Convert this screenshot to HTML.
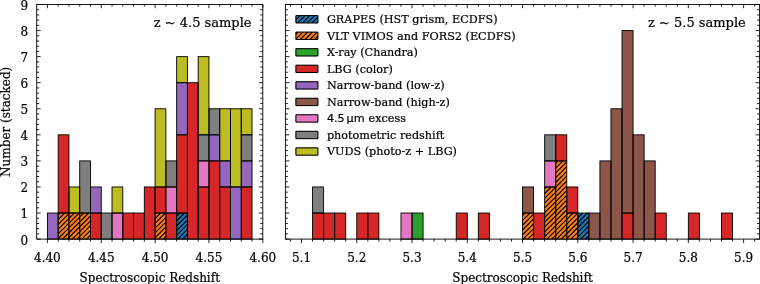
<!DOCTYPE html>
<html lang="en"><head><meta charset="utf-8"><title>Spectroscopic redshift histograms</title>
<style>html,body{margin:0;padding:0;background:#fff}svg text{white-space:pre}</style></head>
<body>
<svg width="760" height="284" viewBox="0 0 760 284" style="display:block">
<rect width="760" height="284" fill="#fff"/>
<g id="bars-left">
<rect x="47.40" y="213.03" width="10.77" height="26.07" fill="#9467bd"/>
<rect x="58.17" y="213.03" width="10.77" height="26.07" fill="#ff7f0e"/>
<path d="M58.17,214.74L59.87,213.03M58.17,219.53L64.67,213.03M58.17,224.33L68.94,213.56M58.17,229.13L68.94,218.36M58.17,233.92L68.94,223.15M58.17,238.72L68.94,227.95M62.59,239.10L68.94,232.75M67.38,239.10L68.94,237.54" stroke="#000" stroke-width="1.2" fill="none"/>
<rect x="58.17" y="134.83" width="10.77" height="78.20" fill="#d62728"/>
<rect x="68.94" y="213.03" width="10.77" height="26.07" fill="#ff7f0e"/>
<path d="M68.94,213.56L69.47,213.03M68.94,218.36L74.26,213.03M68.94,223.15L79.06,213.03M68.94,227.95L79.71,217.18M68.94,232.75L79.71,221.98M68.94,237.54L79.71,226.77M72.18,239.10L79.71,231.57M76.98,239.10L79.71,236.37" stroke="#000" stroke-width="1.2" fill="none"/>
<rect x="68.94" y="186.97" width="10.77" height="26.07" fill="#bcbd22"/>
<rect x="79.71" y="213.03" width="10.77" height="26.07" fill="#ff7f0e"/>
<path d="M79.71,217.18L83.86,213.03M79.71,221.98L88.65,213.03M79.71,226.77L90.48,216.00M79.71,231.57L90.48,220.80M79.71,236.37L90.48,225.60M81.77,239.10L90.48,230.39M86.57,239.10L90.48,235.19" stroke="#000" stroke-width="1.2" fill="none"/>
<rect x="79.71" y="160.90" width="10.77" height="52.13" fill="#7f7f7f"/>
<rect x="90.48" y="213.03" width="10.77" height="26.07" fill="#d62728"/>
<rect x="90.48" y="186.97" width="10.77" height="26.07" fill="#9467bd"/>
<rect x="101.25" y="213.03" width="10.77" height="26.07" fill="#7f7f7f"/>
<rect x="112.02" y="213.03" width="10.77" height="26.07" fill="#e377c2"/>
<rect x="112.02" y="186.97" width="10.77" height="26.07" fill="#bcbd22"/>
<rect x="122.79" y="213.03" width="10.77" height="26.07" fill="#d62728"/>
<rect x="133.56" y="213.03" width="10.77" height="26.07" fill="#d62728"/>
<rect x="144.33" y="186.97" width="10.77" height="52.13" fill="#d62728"/>
<rect x="155.10" y="213.03" width="10.77" height="26.07" fill="#ff7f0e"/>
<path d="M155.10,213.74L155.80,213.03M155.10,218.53L160.60,213.03M155.10,223.33L165.40,213.03M155.10,228.13L165.87,217.36M155.10,232.92L165.87,222.15M155.10,237.72L165.87,226.95M158.52,239.10L165.87,231.75M163.31,239.10L165.87,236.54" stroke="#000" stroke-width="1.2" fill="none"/>
<rect x="155.10" y="186.97" width="10.77" height="26.07" fill="#d62728"/>
<rect x="155.10" y="108.77" width="10.77" height="78.20" fill="#bcbd22"/>
<rect x="165.87" y="213.03" width="10.77" height="26.07" fill="#d62728"/>
<rect x="165.87" y="186.97" width="10.77" height="26.07" fill="#e377c2"/>
<rect x="165.87" y="160.90" width="10.77" height="26.07" fill="#7f7f7f"/>
<rect x="176.64" y="213.03" width="10.77" height="26.07" fill="#1f77b4"/>
<path d="M176.64,216.18L179.79,213.03M176.64,220.98L184.58,213.03M176.64,225.77L187.41,215.00M176.64,230.57L187.41,219.80M176.64,235.37L187.41,224.60M177.70,239.10L187.41,229.39M182.50,239.10L187.41,234.19M187.29,239.10L187.41,238.99" stroke="#000" stroke-width="1.2" fill="none"/>
<rect x="176.64" y="134.83" width="10.77" height="78.20" fill="#d62728"/>
<rect x="176.64" y="82.70" width="10.77" height="52.13" fill="#9467bd"/>
<rect x="176.64" y="56.63" width="10.77" height="26.07" fill="#bcbd22"/>
<rect x="187.41" y="82.70" width="10.77" height="156.40" fill="#d62728"/>
<rect x="198.18" y="186.97" width="10.77" height="52.13" fill="#d62728"/>
<rect x="198.18" y="160.90" width="10.77" height="26.07" fill="#e377c2"/>
<rect x="198.18" y="134.83" width="10.77" height="26.07" fill="#7f7f7f"/>
<rect x="198.18" y="56.63" width="10.77" height="78.20" fill="#bcbd22"/>
<rect x="208.95" y="160.90" width="10.77" height="78.20" fill="#d62728"/>
<rect x="208.95" y="134.83" width="10.77" height="26.07" fill="#9467bd"/>
<rect x="208.95" y="108.77" width="10.77" height="26.07" fill="#7f7f7f"/>
<rect x="219.72" y="186.97" width="10.77" height="52.13" fill="#d62728"/>
<rect x="219.72" y="160.90" width="10.77" height="26.07" fill="#9467bd"/>
<rect x="219.72" y="108.77" width="10.77" height="52.13" fill="#bcbd22"/>
<rect x="230.49" y="186.97" width="10.77" height="52.13" fill="#9467bd"/>
<rect x="230.49" y="108.77" width="10.77" height="78.20" fill="#bcbd22"/>
<rect x="241.26" y="186.97" width="10.77" height="52.13" fill="#d62728"/>
<rect x="241.26" y="160.90" width="10.77" height="26.07" fill="#9467bd"/>
<rect x="241.26" y="134.83" width="10.77" height="26.07" fill="#7f7f7f"/>
<rect x="241.26" y="108.77" width="10.77" height="26.07" fill="#bcbd22"/>
<rect x="47.40" y="213.03" width="10.77" height="26.07" fill="none" stroke="#000" stroke-width="0.9"/>
<rect x="58.17" y="213.03" width="10.77" height="26.07" fill="none" stroke="#000" stroke-width="0.9"/>
<rect x="58.17" y="134.83" width="10.77" height="78.20" fill="none" stroke="#000" stroke-width="0.9"/>
<rect x="68.94" y="213.03" width="10.77" height="26.07" fill="none" stroke="#000" stroke-width="0.9"/>
<rect x="68.94" y="186.97" width="10.77" height="26.07" fill="none" stroke="#000" stroke-width="0.9"/>
<rect x="79.71" y="213.03" width="10.77" height="26.07" fill="none" stroke="#000" stroke-width="0.9"/>
<rect x="79.71" y="160.90" width="10.77" height="52.13" fill="none" stroke="#000" stroke-width="0.9"/>
<rect x="90.48" y="213.03" width="10.77" height="26.07" fill="none" stroke="#000" stroke-width="0.9"/>
<rect x="90.48" y="186.97" width="10.77" height="26.07" fill="none" stroke="#000" stroke-width="0.9"/>
<rect x="101.25" y="213.03" width="10.77" height="26.07" fill="none" stroke="#000" stroke-width="0.9"/>
<rect x="112.02" y="213.03" width="10.77" height="26.07" fill="none" stroke="#000" stroke-width="0.9"/>
<rect x="112.02" y="186.97" width="10.77" height="26.07" fill="none" stroke="#000" stroke-width="0.9"/>
<rect x="122.79" y="213.03" width="10.77" height="26.07" fill="none" stroke="#000" stroke-width="0.9"/>
<rect x="133.56" y="213.03" width="10.77" height="26.07" fill="none" stroke="#000" stroke-width="0.9"/>
<rect x="144.33" y="186.97" width="10.77" height="52.13" fill="none" stroke="#000" stroke-width="0.9"/>
<rect x="155.10" y="213.03" width="10.77" height="26.07" fill="none" stroke="#000" stroke-width="0.9"/>
<rect x="155.10" y="186.97" width="10.77" height="26.07" fill="none" stroke="#000" stroke-width="0.9"/>
<rect x="155.10" y="108.77" width="10.77" height="78.20" fill="none" stroke="#000" stroke-width="0.9"/>
<rect x="165.87" y="213.03" width="10.77" height="26.07" fill="none" stroke="#000" stroke-width="0.9"/>
<rect x="165.87" y="186.97" width="10.77" height="26.07" fill="none" stroke="#000" stroke-width="0.9"/>
<rect x="165.87" y="160.90" width="10.77" height="26.07" fill="none" stroke="#000" stroke-width="0.9"/>
<rect x="176.64" y="213.03" width="10.77" height="26.07" fill="none" stroke="#000" stroke-width="0.9"/>
<rect x="176.64" y="134.83" width="10.77" height="78.20" fill="none" stroke="#000" stroke-width="0.9"/>
<rect x="176.64" y="82.70" width="10.77" height="52.13" fill="none" stroke="#000" stroke-width="0.9"/>
<rect x="176.64" y="56.63" width="10.77" height="26.07" fill="none" stroke="#000" stroke-width="0.9"/>
<rect x="187.41" y="82.70" width="10.77" height="156.40" fill="none" stroke="#000" stroke-width="0.9"/>
<rect x="198.18" y="186.97" width="10.77" height="52.13" fill="none" stroke="#000" stroke-width="0.9"/>
<rect x="198.18" y="160.90" width="10.77" height="26.07" fill="none" stroke="#000" stroke-width="0.9"/>
<rect x="198.18" y="134.83" width="10.77" height="26.07" fill="none" stroke="#000" stroke-width="0.9"/>
<rect x="198.18" y="56.63" width="10.77" height="78.20" fill="none" stroke="#000" stroke-width="0.9"/>
<rect x="208.95" y="160.90" width="10.77" height="78.20" fill="none" stroke="#000" stroke-width="0.9"/>
<rect x="208.95" y="134.83" width="10.77" height="26.07" fill="none" stroke="#000" stroke-width="0.9"/>
<rect x="208.95" y="108.77" width="10.77" height="26.07" fill="none" stroke="#000" stroke-width="0.9"/>
<rect x="219.72" y="186.97" width="10.77" height="52.13" fill="none" stroke="#000" stroke-width="0.9"/>
<rect x="219.72" y="160.90" width="10.77" height="26.07" fill="none" stroke="#000" stroke-width="0.9"/>
<rect x="219.72" y="108.77" width="10.77" height="52.13" fill="none" stroke="#000" stroke-width="0.9"/>
<rect x="230.49" y="186.97" width="10.77" height="52.13" fill="none" stroke="#000" stroke-width="0.9"/>
<rect x="230.49" y="108.77" width="10.77" height="78.20" fill="none" stroke="#000" stroke-width="0.9"/>
<rect x="241.26" y="186.97" width="10.77" height="52.13" fill="none" stroke="#000" stroke-width="0.9"/>
<rect x="241.26" y="160.90" width="10.77" height="26.07" fill="none" stroke="#000" stroke-width="0.9"/>
<rect x="241.26" y="134.83" width="10.77" height="26.07" fill="none" stroke="#000" stroke-width="0.9"/>
<rect x="241.26" y="108.77" width="10.77" height="26.07" fill="none" stroke="#000" stroke-width="0.9"/>
</g>
<g id="bars-right">
<rect x="312.55" y="213.03" width="11.05" height="26.07" fill="#d62728"/>
<rect x="312.55" y="186.97" width="11.05" height="26.07" fill="#7f7f7f"/>
<rect x="323.61" y="213.03" width="11.05" height="26.07" fill="#d62728"/>
<rect x="334.66" y="213.03" width="11.05" height="26.07" fill="#d62728"/>
<rect x="356.76" y="213.03" width="11.05" height="26.07" fill="#d62728"/>
<rect x="367.82" y="213.03" width="11.05" height="26.07" fill="#d62728"/>
<rect x="400.97" y="213.03" width="11.05" height="26.07" fill="#e377c2"/>
<rect x="412.03" y="213.03" width="11.05" height="26.07" fill="#2ca02c"/>
<rect x="456.24" y="213.03" width="11.05" height="26.07" fill="#d62728"/>
<rect x="478.34" y="213.03" width="11.05" height="26.07" fill="#d62728"/>
<rect x="522.55" y="213.03" width="11.05" height="26.07" fill="#ff7f0e"/>
<path d="M522.55,215.62L525.13,213.03M522.55,220.41L529.93,213.03M522.55,225.21L533.60,214.16M522.55,230.01L533.60,218.95M522.55,234.80L533.60,223.75M523.05,239.10L533.60,228.55M527.85,239.10L533.60,233.34M532.64,239.10L533.60,238.14" stroke="#000" stroke-width="1.2" fill="none"/>
<rect x="522.55" y="186.97" width="11.05" height="26.07" fill="#8c564b"/>
<rect x="533.60" y="213.03" width="11.05" height="26.07" fill="#d62728"/>
<rect x="544.66" y="186.97" width="11.05" height="52.13" fill="#ff7f0e"/>
<path d="M544.66,188.72L546.40,186.97M544.66,193.51L551.20,186.97M544.66,198.31L555.71,187.26M544.66,203.11L555.71,192.05M544.66,207.90L555.71,196.85M544.66,212.70L555.71,201.65M544.66,217.49L555.71,206.44M544.66,222.29L555.71,211.24M544.66,227.09L555.71,216.04M544.66,231.88L555.71,220.83M544.66,236.68L555.71,225.63M547.03,239.10L555.71,230.42M551.83,239.10L555.71,235.22" stroke="#000" stroke-width="1.2" fill="none"/>
<rect x="544.66" y="160.90" width="11.05" height="26.07" fill="#e377c2"/>
<rect x="544.66" y="134.83" width="11.05" height="26.07" fill="#7f7f7f"/>
<rect x="555.71" y="160.90" width="11.05" height="78.20" fill="#ff7f0e"/>
<path d="M555.71,163.27L558.08,160.90M555.71,168.07L562.88,160.90M555.71,172.87L566.76,161.81M555.71,177.66L566.76,166.61M555.71,182.46L566.76,171.41M555.71,187.26L566.76,176.20M555.71,192.05L566.76,181.00M555.71,196.85L566.76,185.80M555.71,201.65L566.76,190.59M555.71,206.44L566.76,195.39M555.71,211.24L566.76,200.19M555.71,216.04L566.76,204.98M555.71,220.83L566.76,209.78M555.71,225.63L566.76,214.58M555.71,230.42L566.76,219.37M555.71,235.22L566.76,224.17M556.63,239.10L566.76,228.97M561.42,239.10L566.76,233.76M566.22,239.10L566.76,238.56" stroke="#000" stroke-width="1.2" fill="none"/>
<rect x="555.71" y="134.83" width="11.05" height="26.07" fill="#d62728"/>
<rect x="566.76" y="213.03" width="11.05" height="26.07" fill="#ff7f0e"/>
<path d="M566.76,214.58L568.30,213.03M566.76,219.37L573.10,213.03M566.76,224.17L577.81,213.12M566.76,228.97L577.81,217.91M566.76,233.76L577.81,222.71M566.76,238.56L577.81,227.51M571.01,239.10L577.81,232.30M575.81,239.10L577.81,237.10" stroke="#000" stroke-width="1.2" fill="none"/>
<rect x="566.76" y="186.97" width="11.05" height="26.07" fill="#d62728"/>
<rect x="577.81" y="213.03" width="11.05" height="26.07" fill="#1f77b4"/>
<path d="M577.81,213.12L577.90,213.03M577.81,217.91L582.69,213.03M577.81,222.71L587.49,213.03M577.81,227.51L588.86,216.45M577.81,232.30L588.86,221.25M577.81,237.10L588.86,226.05M580.61,239.10L588.86,230.84M585.40,239.10L588.86,235.64" stroke="#000" stroke-width="1.2" fill="none"/>
<rect x="588.87" y="213.03" width="11.05" height="26.07" fill="#8c564b"/>
<rect x="599.92" y="160.90" width="11.05" height="78.20" fill="#8c564b"/>
<rect x="610.97" y="108.77" width="11.05" height="130.33" fill="#8c564b"/>
<rect x="622.02" y="213.03" width="11.05" height="26.07" fill="#d62728"/>
<rect x="622.02" y="30.57" width="11.05" height="182.47" fill="#8c564b"/>
<rect x="633.08" y="134.83" width="11.05" height="104.27" fill="#8c564b"/>
<rect x="644.13" y="160.90" width="11.05" height="78.20" fill="#8c564b"/>
<rect x="655.18" y="213.03" width="11.05" height="26.07" fill="#d62728"/>
<rect x="688.34" y="213.03" width="11.05" height="26.07" fill="#d62728"/>
<rect x="721.50" y="213.03" width="11.05" height="26.07" fill="#d62728"/>
<rect x="312.55" y="213.03" width="11.05" height="26.07" fill="none" stroke="#000" stroke-width="0.9"/>
<rect x="312.55" y="186.97" width="11.05" height="26.07" fill="none" stroke="#000" stroke-width="0.9"/>
<rect x="323.61" y="213.03" width="11.05" height="26.07" fill="none" stroke="#000" stroke-width="0.9"/>
<rect x="334.66" y="213.03" width="11.05" height="26.07" fill="none" stroke="#000" stroke-width="0.9"/>
<rect x="356.76" y="213.03" width="11.05" height="26.07" fill="none" stroke="#000" stroke-width="0.9"/>
<rect x="367.82" y="213.03" width="11.05" height="26.07" fill="none" stroke="#000" stroke-width="0.9"/>
<rect x="400.97" y="213.03" width="11.05" height="26.07" fill="none" stroke="#000" stroke-width="0.9"/>
<rect x="412.03" y="213.03" width="11.05" height="26.07" fill="none" stroke="#000" stroke-width="0.9"/>
<rect x="456.24" y="213.03" width="11.05" height="26.07" fill="none" stroke="#000" stroke-width="0.9"/>
<rect x="478.34" y="213.03" width="11.05" height="26.07" fill="none" stroke="#000" stroke-width="0.9"/>
<rect x="522.55" y="213.03" width="11.05" height="26.07" fill="none" stroke="#000" stroke-width="0.9"/>
<rect x="522.55" y="186.97" width="11.05" height="26.07" fill="none" stroke="#000" stroke-width="0.9"/>
<rect x="533.60" y="213.03" width="11.05" height="26.07" fill="none" stroke="#000" stroke-width="0.9"/>
<rect x="544.66" y="186.97" width="11.05" height="52.13" fill="none" stroke="#000" stroke-width="0.9"/>
<rect x="544.66" y="160.90" width="11.05" height="26.07" fill="none" stroke="#000" stroke-width="0.9"/>
<rect x="544.66" y="134.83" width="11.05" height="26.07" fill="none" stroke="#000" stroke-width="0.9"/>
<rect x="555.71" y="160.90" width="11.05" height="78.20" fill="none" stroke="#000" stroke-width="0.9"/>
<rect x="555.71" y="134.83" width="11.05" height="26.07" fill="none" stroke="#000" stroke-width="0.9"/>
<rect x="566.76" y="213.03" width="11.05" height="26.07" fill="none" stroke="#000" stroke-width="0.9"/>
<rect x="566.76" y="186.97" width="11.05" height="26.07" fill="none" stroke="#000" stroke-width="0.9"/>
<rect x="577.81" y="213.03" width="11.05" height="26.07" fill="none" stroke="#000" stroke-width="0.9"/>
<rect x="588.87" y="213.03" width="11.05" height="26.07" fill="none" stroke="#000" stroke-width="0.9"/>
<rect x="599.92" y="160.90" width="11.05" height="78.20" fill="none" stroke="#000" stroke-width="0.9"/>
<rect x="610.97" y="108.77" width="11.05" height="130.33" fill="none" stroke="#000" stroke-width="0.9"/>
<rect x="622.02" y="213.03" width="11.05" height="26.07" fill="none" stroke="#000" stroke-width="0.9"/>
<rect x="622.02" y="30.57" width="11.05" height="182.47" fill="none" stroke="#000" stroke-width="0.9"/>
<rect x="633.08" y="134.83" width="11.05" height="104.27" fill="none" stroke="#000" stroke-width="0.9"/>
<rect x="644.13" y="160.90" width="11.05" height="78.20" fill="none" stroke="#000" stroke-width="0.9"/>
<rect x="655.18" y="213.03" width="11.05" height="26.07" fill="none" stroke="#000" stroke-width="0.9"/>
<rect x="688.34" y="213.03" width="11.05" height="26.07" fill="none" stroke="#000" stroke-width="0.9"/>
<rect x="721.50" y="213.03" width="11.05" height="26.07" fill="none" stroke="#000" stroke-width="0.9"/>
</g>
<g id="ticks">
<line x1="36.70" y1="239.10" x2="40.70" y2="239.10" stroke="#000" stroke-width="0.85"/>
<line x1="262.80" y1="239.10" x2="258.80" y2="239.10" stroke="#000" stroke-width="0.85"/>
<line x1="36.70" y1="233.89" x2="39.20" y2="233.89" stroke="#000" stroke-width="0.85"/>
<line x1="262.80" y1="233.89" x2="260.30" y2="233.89" stroke="#000" stroke-width="0.85"/>
<line x1="36.70" y1="228.67" x2="39.20" y2="228.67" stroke="#000" stroke-width="0.85"/>
<line x1="262.80" y1="228.67" x2="260.30" y2="228.67" stroke="#000" stroke-width="0.85"/>
<line x1="36.70" y1="223.46" x2="39.20" y2="223.46" stroke="#000" stroke-width="0.85"/>
<line x1="262.80" y1="223.46" x2="260.30" y2="223.46" stroke="#000" stroke-width="0.85"/>
<line x1="36.70" y1="218.25" x2="39.20" y2="218.25" stroke="#000" stroke-width="0.85"/>
<line x1="262.80" y1="218.25" x2="260.30" y2="218.25" stroke="#000" stroke-width="0.85"/>
<line x1="36.70" y1="213.03" x2="40.70" y2="213.03" stroke="#000" stroke-width="0.85"/>
<line x1="262.80" y1="213.03" x2="258.80" y2="213.03" stroke="#000" stroke-width="0.85"/>
<line x1="36.70" y1="207.82" x2="39.20" y2="207.82" stroke="#000" stroke-width="0.85"/>
<line x1="262.80" y1="207.82" x2="260.30" y2="207.82" stroke="#000" stroke-width="0.85"/>
<line x1="36.70" y1="202.61" x2="39.20" y2="202.61" stroke="#000" stroke-width="0.85"/>
<line x1="262.80" y1="202.61" x2="260.30" y2="202.61" stroke="#000" stroke-width="0.85"/>
<line x1="36.70" y1="197.39" x2="39.20" y2="197.39" stroke="#000" stroke-width="0.85"/>
<line x1="262.80" y1="197.39" x2="260.30" y2="197.39" stroke="#000" stroke-width="0.85"/>
<line x1="36.70" y1="192.18" x2="39.20" y2="192.18" stroke="#000" stroke-width="0.85"/>
<line x1="262.80" y1="192.18" x2="260.30" y2="192.18" stroke="#000" stroke-width="0.85"/>
<line x1="36.70" y1="186.97" x2="40.70" y2="186.97" stroke="#000" stroke-width="0.85"/>
<line x1="262.80" y1="186.97" x2="258.80" y2="186.97" stroke="#000" stroke-width="0.85"/>
<line x1="36.70" y1="181.75" x2="39.20" y2="181.75" stroke="#000" stroke-width="0.85"/>
<line x1="262.80" y1="181.75" x2="260.30" y2="181.75" stroke="#000" stroke-width="0.85"/>
<line x1="36.70" y1="176.54" x2="39.20" y2="176.54" stroke="#000" stroke-width="0.85"/>
<line x1="262.80" y1="176.54" x2="260.30" y2="176.54" stroke="#000" stroke-width="0.85"/>
<line x1="36.70" y1="171.33" x2="39.20" y2="171.33" stroke="#000" stroke-width="0.85"/>
<line x1="262.80" y1="171.33" x2="260.30" y2="171.33" stroke="#000" stroke-width="0.85"/>
<line x1="36.70" y1="166.11" x2="39.20" y2="166.11" stroke="#000" stroke-width="0.85"/>
<line x1="262.80" y1="166.11" x2="260.30" y2="166.11" stroke="#000" stroke-width="0.85"/>
<line x1="36.70" y1="160.90" x2="40.70" y2="160.90" stroke="#000" stroke-width="0.85"/>
<line x1="262.80" y1="160.90" x2="258.80" y2="160.90" stroke="#000" stroke-width="0.85"/>
<line x1="36.70" y1="155.69" x2="39.20" y2="155.69" stroke="#000" stroke-width="0.85"/>
<line x1="262.80" y1="155.69" x2="260.30" y2="155.69" stroke="#000" stroke-width="0.85"/>
<line x1="36.70" y1="150.47" x2="39.20" y2="150.47" stroke="#000" stroke-width="0.85"/>
<line x1="262.80" y1="150.47" x2="260.30" y2="150.47" stroke="#000" stroke-width="0.85"/>
<line x1="36.70" y1="145.26" x2="39.20" y2="145.26" stroke="#000" stroke-width="0.85"/>
<line x1="262.80" y1="145.26" x2="260.30" y2="145.26" stroke="#000" stroke-width="0.85"/>
<line x1="36.70" y1="140.05" x2="39.20" y2="140.05" stroke="#000" stroke-width="0.85"/>
<line x1="262.80" y1="140.05" x2="260.30" y2="140.05" stroke="#000" stroke-width="0.85"/>
<line x1="36.70" y1="134.83" x2="40.70" y2="134.83" stroke="#000" stroke-width="0.85"/>
<line x1="262.80" y1="134.83" x2="258.80" y2="134.83" stroke="#000" stroke-width="0.85"/>
<line x1="36.70" y1="129.62" x2="39.20" y2="129.62" stroke="#000" stroke-width="0.85"/>
<line x1="262.80" y1="129.62" x2="260.30" y2="129.62" stroke="#000" stroke-width="0.85"/>
<line x1="36.70" y1="124.41" x2="39.20" y2="124.41" stroke="#000" stroke-width="0.85"/>
<line x1="262.80" y1="124.41" x2="260.30" y2="124.41" stroke="#000" stroke-width="0.85"/>
<line x1="36.70" y1="119.19" x2="39.20" y2="119.19" stroke="#000" stroke-width="0.85"/>
<line x1="262.80" y1="119.19" x2="260.30" y2="119.19" stroke="#000" stroke-width="0.85"/>
<line x1="36.70" y1="113.98" x2="39.20" y2="113.98" stroke="#000" stroke-width="0.85"/>
<line x1="262.80" y1="113.98" x2="260.30" y2="113.98" stroke="#000" stroke-width="0.85"/>
<line x1="36.70" y1="108.77" x2="40.70" y2="108.77" stroke="#000" stroke-width="0.85"/>
<line x1="262.80" y1="108.77" x2="258.80" y2="108.77" stroke="#000" stroke-width="0.85"/>
<line x1="36.70" y1="103.55" x2="39.20" y2="103.55" stroke="#000" stroke-width="0.85"/>
<line x1="262.80" y1="103.55" x2="260.30" y2="103.55" stroke="#000" stroke-width="0.85"/>
<line x1="36.70" y1="98.34" x2="39.20" y2="98.34" stroke="#000" stroke-width="0.85"/>
<line x1="262.80" y1="98.34" x2="260.30" y2="98.34" stroke="#000" stroke-width="0.85"/>
<line x1="36.70" y1="93.13" x2="39.20" y2="93.13" stroke="#000" stroke-width="0.85"/>
<line x1="262.80" y1="93.13" x2="260.30" y2="93.13" stroke="#000" stroke-width="0.85"/>
<line x1="36.70" y1="87.91" x2="39.20" y2="87.91" stroke="#000" stroke-width="0.85"/>
<line x1="262.80" y1="87.91" x2="260.30" y2="87.91" stroke="#000" stroke-width="0.85"/>
<line x1="36.70" y1="82.70" x2="40.70" y2="82.70" stroke="#000" stroke-width="0.85"/>
<line x1="262.80" y1="82.70" x2="258.80" y2="82.70" stroke="#000" stroke-width="0.85"/>
<line x1="36.70" y1="77.49" x2="39.20" y2="77.49" stroke="#000" stroke-width="0.85"/>
<line x1="262.80" y1="77.49" x2="260.30" y2="77.49" stroke="#000" stroke-width="0.85"/>
<line x1="36.70" y1="72.27" x2="39.20" y2="72.27" stroke="#000" stroke-width="0.85"/>
<line x1="262.80" y1="72.27" x2="260.30" y2="72.27" stroke="#000" stroke-width="0.85"/>
<line x1="36.70" y1="67.06" x2="39.20" y2="67.06" stroke="#000" stroke-width="0.85"/>
<line x1="262.80" y1="67.06" x2="260.30" y2="67.06" stroke="#000" stroke-width="0.85"/>
<line x1="36.70" y1="61.85" x2="39.20" y2="61.85" stroke="#000" stroke-width="0.85"/>
<line x1="262.80" y1="61.85" x2="260.30" y2="61.85" stroke="#000" stroke-width="0.85"/>
<line x1="36.70" y1="56.63" x2="40.70" y2="56.63" stroke="#000" stroke-width="0.85"/>
<line x1="262.80" y1="56.63" x2="258.80" y2="56.63" stroke="#000" stroke-width="0.85"/>
<line x1="36.70" y1="51.42" x2="39.20" y2="51.42" stroke="#000" stroke-width="0.85"/>
<line x1="262.80" y1="51.42" x2="260.30" y2="51.42" stroke="#000" stroke-width="0.85"/>
<line x1="36.70" y1="46.21" x2="39.20" y2="46.21" stroke="#000" stroke-width="0.85"/>
<line x1="262.80" y1="46.21" x2="260.30" y2="46.21" stroke="#000" stroke-width="0.85"/>
<line x1="36.70" y1="40.99" x2="39.20" y2="40.99" stroke="#000" stroke-width="0.85"/>
<line x1="262.80" y1="40.99" x2="260.30" y2="40.99" stroke="#000" stroke-width="0.85"/>
<line x1="36.70" y1="35.78" x2="39.20" y2="35.78" stroke="#000" stroke-width="0.85"/>
<line x1="262.80" y1="35.78" x2="260.30" y2="35.78" stroke="#000" stroke-width="0.85"/>
<line x1="36.70" y1="30.57" x2="40.70" y2="30.57" stroke="#000" stroke-width="0.85"/>
<line x1="262.80" y1="30.57" x2="258.80" y2="30.57" stroke="#000" stroke-width="0.85"/>
<line x1="36.70" y1="25.35" x2="39.20" y2="25.35" stroke="#000" stroke-width="0.85"/>
<line x1="262.80" y1="25.35" x2="260.30" y2="25.35" stroke="#000" stroke-width="0.85"/>
<line x1="36.70" y1="20.14" x2="39.20" y2="20.14" stroke="#000" stroke-width="0.85"/>
<line x1="262.80" y1="20.14" x2="260.30" y2="20.14" stroke="#000" stroke-width="0.85"/>
<line x1="36.70" y1="14.93" x2="39.20" y2="14.93" stroke="#000" stroke-width="0.85"/>
<line x1="262.80" y1="14.93" x2="260.30" y2="14.93" stroke="#000" stroke-width="0.85"/>
<line x1="36.70" y1="9.71" x2="39.20" y2="9.71" stroke="#000" stroke-width="0.85"/>
<line x1="262.80" y1="9.71" x2="260.30" y2="9.71" stroke="#000" stroke-width="0.85"/>
<line x1="36.70" y1="4.50" x2="40.70" y2="4.50" stroke="#000" stroke-width="0.85"/>
<line x1="262.80" y1="4.50" x2="258.80" y2="4.50" stroke="#000" stroke-width="0.85"/>
<line x1="285.40" y1="239.10" x2="289.40" y2="239.10" stroke="#000" stroke-width="0.85"/>
<line x1="759.60" y1="239.10" x2="755.60" y2="239.10" stroke="#000" stroke-width="0.85"/>
<line x1="285.40" y1="233.89" x2="287.90" y2="233.89" stroke="#000" stroke-width="0.85"/>
<line x1="759.60" y1="233.89" x2="757.10" y2="233.89" stroke="#000" stroke-width="0.85"/>
<line x1="285.40" y1="228.67" x2="287.90" y2="228.67" stroke="#000" stroke-width="0.85"/>
<line x1="759.60" y1="228.67" x2="757.10" y2="228.67" stroke="#000" stroke-width="0.85"/>
<line x1="285.40" y1="223.46" x2="287.90" y2="223.46" stroke="#000" stroke-width="0.85"/>
<line x1="759.60" y1="223.46" x2="757.10" y2="223.46" stroke="#000" stroke-width="0.85"/>
<line x1="285.40" y1="218.25" x2="287.90" y2="218.25" stroke="#000" stroke-width="0.85"/>
<line x1="759.60" y1="218.25" x2="757.10" y2="218.25" stroke="#000" stroke-width="0.85"/>
<line x1="285.40" y1="213.03" x2="289.40" y2="213.03" stroke="#000" stroke-width="0.85"/>
<line x1="759.60" y1="213.03" x2="755.60" y2="213.03" stroke="#000" stroke-width="0.85"/>
<line x1="285.40" y1="207.82" x2="287.90" y2="207.82" stroke="#000" stroke-width="0.85"/>
<line x1="759.60" y1="207.82" x2="757.10" y2="207.82" stroke="#000" stroke-width="0.85"/>
<line x1="285.40" y1="202.61" x2="287.90" y2="202.61" stroke="#000" stroke-width="0.85"/>
<line x1="759.60" y1="202.61" x2="757.10" y2="202.61" stroke="#000" stroke-width="0.85"/>
<line x1="285.40" y1="197.39" x2="287.90" y2="197.39" stroke="#000" stroke-width="0.85"/>
<line x1="759.60" y1="197.39" x2="757.10" y2="197.39" stroke="#000" stroke-width="0.85"/>
<line x1="285.40" y1="192.18" x2="287.90" y2="192.18" stroke="#000" stroke-width="0.85"/>
<line x1="759.60" y1="192.18" x2="757.10" y2="192.18" stroke="#000" stroke-width="0.85"/>
<line x1="285.40" y1="186.97" x2="289.40" y2="186.97" stroke="#000" stroke-width="0.85"/>
<line x1="759.60" y1="186.97" x2="755.60" y2="186.97" stroke="#000" stroke-width="0.85"/>
<line x1="285.40" y1="181.75" x2="287.90" y2="181.75" stroke="#000" stroke-width="0.85"/>
<line x1="759.60" y1="181.75" x2="757.10" y2="181.75" stroke="#000" stroke-width="0.85"/>
<line x1="285.40" y1="176.54" x2="287.90" y2="176.54" stroke="#000" stroke-width="0.85"/>
<line x1="759.60" y1="176.54" x2="757.10" y2="176.54" stroke="#000" stroke-width="0.85"/>
<line x1="285.40" y1="171.33" x2="287.90" y2="171.33" stroke="#000" stroke-width="0.85"/>
<line x1="759.60" y1="171.33" x2="757.10" y2="171.33" stroke="#000" stroke-width="0.85"/>
<line x1="285.40" y1="166.11" x2="287.90" y2="166.11" stroke="#000" stroke-width="0.85"/>
<line x1="759.60" y1="166.11" x2="757.10" y2="166.11" stroke="#000" stroke-width="0.85"/>
<line x1="285.40" y1="160.90" x2="289.40" y2="160.90" stroke="#000" stroke-width="0.85"/>
<line x1="759.60" y1="160.90" x2="755.60" y2="160.90" stroke="#000" stroke-width="0.85"/>
<line x1="285.40" y1="155.69" x2="287.90" y2="155.69" stroke="#000" stroke-width="0.85"/>
<line x1="759.60" y1="155.69" x2="757.10" y2="155.69" stroke="#000" stroke-width="0.85"/>
<line x1="285.40" y1="150.47" x2="287.90" y2="150.47" stroke="#000" stroke-width="0.85"/>
<line x1="759.60" y1="150.47" x2="757.10" y2="150.47" stroke="#000" stroke-width="0.85"/>
<line x1="285.40" y1="145.26" x2="287.90" y2="145.26" stroke="#000" stroke-width="0.85"/>
<line x1="759.60" y1="145.26" x2="757.10" y2="145.26" stroke="#000" stroke-width="0.85"/>
<line x1="285.40" y1="140.05" x2="287.90" y2="140.05" stroke="#000" stroke-width="0.85"/>
<line x1="759.60" y1="140.05" x2="757.10" y2="140.05" stroke="#000" stroke-width="0.85"/>
<line x1="285.40" y1="134.83" x2="289.40" y2="134.83" stroke="#000" stroke-width="0.85"/>
<line x1="759.60" y1="134.83" x2="755.60" y2="134.83" stroke="#000" stroke-width="0.85"/>
<line x1="285.40" y1="129.62" x2="287.90" y2="129.62" stroke="#000" stroke-width="0.85"/>
<line x1="759.60" y1="129.62" x2="757.10" y2="129.62" stroke="#000" stroke-width="0.85"/>
<line x1="285.40" y1="124.41" x2="287.90" y2="124.41" stroke="#000" stroke-width="0.85"/>
<line x1="759.60" y1="124.41" x2="757.10" y2="124.41" stroke="#000" stroke-width="0.85"/>
<line x1="285.40" y1="119.19" x2="287.90" y2="119.19" stroke="#000" stroke-width="0.85"/>
<line x1="759.60" y1="119.19" x2="757.10" y2="119.19" stroke="#000" stroke-width="0.85"/>
<line x1="285.40" y1="113.98" x2="287.90" y2="113.98" stroke="#000" stroke-width="0.85"/>
<line x1="759.60" y1="113.98" x2="757.10" y2="113.98" stroke="#000" stroke-width="0.85"/>
<line x1="285.40" y1="108.77" x2="289.40" y2="108.77" stroke="#000" stroke-width="0.85"/>
<line x1="759.60" y1="108.77" x2="755.60" y2="108.77" stroke="#000" stroke-width="0.85"/>
<line x1="285.40" y1="103.55" x2="287.90" y2="103.55" stroke="#000" stroke-width="0.85"/>
<line x1="759.60" y1="103.55" x2="757.10" y2="103.55" stroke="#000" stroke-width="0.85"/>
<line x1="285.40" y1="98.34" x2="287.90" y2="98.34" stroke="#000" stroke-width="0.85"/>
<line x1="759.60" y1="98.34" x2="757.10" y2="98.34" stroke="#000" stroke-width="0.85"/>
<line x1="285.40" y1="93.13" x2="287.90" y2="93.13" stroke="#000" stroke-width="0.85"/>
<line x1="759.60" y1="93.13" x2="757.10" y2="93.13" stroke="#000" stroke-width="0.85"/>
<line x1="285.40" y1="87.91" x2="287.90" y2="87.91" stroke="#000" stroke-width="0.85"/>
<line x1="759.60" y1="87.91" x2="757.10" y2="87.91" stroke="#000" stroke-width="0.85"/>
<line x1="285.40" y1="82.70" x2="289.40" y2="82.70" stroke="#000" stroke-width="0.85"/>
<line x1="759.60" y1="82.70" x2="755.60" y2="82.70" stroke="#000" stroke-width="0.85"/>
<line x1="285.40" y1="77.49" x2="287.90" y2="77.49" stroke="#000" stroke-width="0.85"/>
<line x1="759.60" y1="77.49" x2="757.10" y2="77.49" stroke="#000" stroke-width="0.85"/>
<line x1="285.40" y1="72.27" x2="287.90" y2="72.27" stroke="#000" stroke-width="0.85"/>
<line x1="759.60" y1="72.27" x2="757.10" y2="72.27" stroke="#000" stroke-width="0.85"/>
<line x1="285.40" y1="67.06" x2="287.90" y2="67.06" stroke="#000" stroke-width="0.85"/>
<line x1="759.60" y1="67.06" x2="757.10" y2="67.06" stroke="#000" stroke-width="0.85"/>
<line x1="285.40" y1="61.85" x2="287.90" y2="61.85" stroke="#000" stroke-width="0.85"/>
<line x1="759.60" y1="61.85" x2="757.10" y2="61.85" stroke="#000" stroke-width="0.85"/>
<line x1="285.40" y1="56.63" x2="289.40" y2="56.63" stroke="#000" stroke-width="0.85"/>
<line x1="759.60" y1="56.63" x2="755.60" y2="56.63" stroke="#000" stroke-width="0.85"/>
<line x1="285.40" y1="51.42" x2="287.90" y2="51.42" stroke="#000" stroke-width="0.85"/>
<line x1="759.60" y1="51.42" x2="757.10" y2="51.42" stroke="#000" stroke-width="0.85"/>
<line x1="285.40" y1="46.21" x2="287.90" y2="46.21" stroke="#000" stroke-width="0.85"/>
<line x1="759.60" y1="46.21" x2="757.10" y2="46.21" stroke="#000" stroke-width="0.85"/>
<line x1="285.40" y1="40.99" x2="287.90" y2="40.99" stroke="#000" stroke-width="0.85"/>
<line x1="759.60" y1="40.99" x2="757.10" y2="40.99" stroke="#000" stroke-width="0.85"/>
<line x1="285.40" y1="35.78" x2="287.90" y2="35.78" stroke="#000" stroke-width="0.85"/>
<line x1="759.60" y1="35.78" x2="757.10" y2="35.78" stroke="#000" stroke-width="0.85"/>
<line x1="285.40" y1="30.57" x2="289.40" y2="30.57" stroke="#000" stroke-width="0.85"/>
<line x1="759.60" y1="30.57" x2="755.60" y2="30.57" stroke="#000" stroke-width="0.85"/>
<line x1="285.40" y1="25.35" x2="287.90" y2="25.35" stroke="#000" stroke-width="0.85"/>
<line x1="759.60" y1="25.35" x2="757.10" y2="25.35" stroke="#000" stroke-width="0.85"/>
<line x1="285.40" y1="20.14" x2="287.90" y2="20.14" stroke="#000" stroke-width="0.85"/>
<line x1="759.60" y1="20.14" x2="757.10" y2="20.14" stroke="#000" stroke-width="0.85"/>
<line x1="285.40" y1="14.93" x2="287.90" y2="14.93" stroke="#000" stroke-width="0.85"/>
<line x1="759.60" y1="14.93" x2="757.10" y2="14.93" stroke="#000" stroke-width="0.85"/>
<line x1="285.40" y1="9.71" x2="287.90" y2="9.71" stroke="#000" stroke-width="0.85"/>
<line x1="759.60" y1="9.71" x2="757.10" y2="9.71" stroke="#000" stroke-width="0.85"/>
<line x1="285.40" y1="4.50" x2="289.40" y2="4.50" stroke="#000" stroke-width="0.85"/>
<line x1="759.60" y1="4.50" x2="755.60" y2="4.50" stroke="#000" stroke-width="0.85"/>
<line x1="47.40" y1="4.50" x2="47.40" y2="8.20" stroke="#000" stroke-width="0.85"/>
<line x1="47.40" y1="239.10" x2="47.40" y2="243.10" stroke="#000" stroke-width="0.85"/>
<line x1="58.17" y1="4.50" x2="58.17" y2="6.70" stroke="#000" stroke-width="0.85"/>
<line x1="58.17" y1="239.10" x2="58.17" y2="241.60" stroke="#000" stroke-width="0.85"/>
<line x1="68.94" y1="4.50" x2="68.94" y2="6.70" stroke="#000" stroke-width="0.85"/>
<line x1="68.94" y1="239.10" x2="68.94" y2="241.60" stroke="#000" stroke-width="0.85"/>
<line x1="79.71" y1="4.50" x2="79.71" y2="6.70" stroke="#000" stroke-width="0.85"/>
<line x1="79.71" y1="239.10" x2="79.71" y2="241.60" stroke="#000" stroke-width="0.85"/>
<line x1="90.48" y1="4.50" x2="90.48" y2="6.70" stroke="#000" stroke-width="0.85"/>
<line x1="90.48" y1="239.10" x2="90.48" y2="241.60" stroke="#000" stroke-width="0.85"/>
<line x1="101.25" y1="4.50" x2="101.25" y2="8.20" stroke="#000" stroke-width="0.85"/>
<line x1="101.25" y1="239.10" x2="101.25" y2="243.10" stroke="#000" stroke-width="0.85"/>
<line x1="112.02" y1="4.50" x2="112.02" y2="6.70" stroke="#000" stroke-width="0.85"/>
<line x1="112.02" y1="239.10" x2="112.02" y2="241.60" stroke="#000" stroke-width="0.85"/>
<line x1="122.79" y1="4.50" x2="122.79" y2="6.70" stroke="#000" stroke-width="0.85"/>
<line x1="122.79" y1="239.10" x2="122.79" y2="241.60" stroke="#000" stroke-width="0.85"/>
<line x1="133.56" y1="4.50" x2="133.56" y2="6.70" stroke="#000" stroke-width="0.85"/>
<line x1="133.56" y1="239.10" x2="133.56" y2="241.60" stroke="#000" stroke-width="0.85"/>
<line x1="144.33" y1="4.50" x2="144.33" y2="6.70" stroke="#000" stroke-width="0.85"/>
<line x1="144.33" y1="239.10" x2="144.33" y2="241.60" stroke="#000" stroke-width="0.85"/>
<line x1="155.10" y1="4.50" x2="155.10" y2="8.20" stroke="#000" stroke-width="0.85"/>
<line x1="155.10" y1="239.10" x2="155.10" y2="243.10" stroke="#000" stroke-width="0.85"/>
<line x1="165.87" y1="4.50" x2="165.87" y2="6.70" stroke="#000" stroke-width="0.85"/>
<line x1="165.87" y1="239.10" x2="165.87" y2="241.60" stroke="#000" stroke-width="0.85"/>
<line x1="176.64" y1="4.50" x2="176.64" y2="6.70" stroke="#000" stroke-width="0.85"/>
<line x1="176.64" y1="239.10" x2="176.64" y2="241.60" stroke="#000" stroke-width="0.85"/>
<line x1="187.41" y1="4.50" x2="187.41" y2="6.70" stroke="#000" stroke-width="0.85"/>
<line x1="187.41" y1="239.10" x2="187.41" y2="241.60" stroke="#000" stroke-width="0.85"/>
<line x1="198.18" y1="4.50" x2="198.18" y2="6.70" stroke="#000" stroke-width="0.85"/>
<line x1="198.18" y1="239.10" x2="198.18" y2="241.60" stroke="#000" stroke-width="0.85"/>
<line x1="208.95" y1="4.50" x2="208.95" y2="8.20" stroke="#000" stroke-width="0.85"/>
<line x1="208.95" y1="239.10" x2="208.95" y2="243.10" stroke="#000" stroke-width="0.85"/>
<line x1="219.72" y1="4.50" x2="219.72" y2="6.70" stroke="#000" stroke-width="0.85"/>
<line x1="219.72" y1="239.10" x2="219.72" y2="241.60" stroke="#000" stroke-width="0.85"/>
<line x1="230.49" y1="4.50" x2="230.49" y2="6.70" stroke="#000" stroke-width="0.85"/>
<line x1="230.49" y1="239.10" x2="230.49" y2="241.60" stroke="#000" stroke-width="0.85"/>
<line x1="241.26" y1="4.50" x2="241.26" y2="6.70" stroke="#000" stroke-width="0.85"/>
<line x1="241.26" y1="239.10" x2="241.26" y2="241.60" stroke="#000" stroke-width="0.85"/>
<line x1="252.03" y1="4.50" x2="252.03" y2="6.70" stroke="#000" stroke-width="0.85"/>
<line x1="252.03" y1="239.10" x2="252.03" y2="241.60" stroke="#000" stroke-width="0.85"/>
<line x1="262.80" y1="4.50" x2="262.80" y2="8.20" stroke="#000" stroke-width="0.85"/>
<line x1="262.80" y1="239.10" x2="262.80" y2="243.10" stroke="#000" stroke-width="0.85"/>
<line x1="290.45" y1="4.50" x2="290.45" y2="6.70" stroke="#000" stroke-width="0.85"/>
<line x1="290.45" y1="239.10" x2="290.45" y2="241.60" stroke="#000" stroke-width="0.85"/>
<line x1="301.50" y1="4.50" x2="301.50" y2="8.20" stroke="#000" stroke-width="0.85"/>
<line x1="301.50" y1="239.10" x2="301.50" y2="243.10" stroke="#000" stroke-width="0.85"/>
<line x1="312.55" y1="4.50" x2="312.55" y2="6.70" stroke="#000" stroke-width="0.85"/>
<line x1="312.55" y1="239.10" x2="312.55" y2="241.60" stroke="#000" stroke-width="0.85"/>
<line x1="323.61" y1="4.50" x2="323.61" y2="6.70" stroke="#000" stroke-width="0.85"/>
<line x1="323.61" y1="239.10" x2="323.61" y2="241.60" stroke="#000" stroke-width="0.85"/>
<line x1="334.66" y1="4.50" x2="334.66" y2="6.70" stroke="#000" stroke-width="0.85"/>
<line x1="334.66" y1="239.10" x2="334.66" y2="241.60" stroke="#000" stroke-width="0.85"/>
<line x1="345.71" y1="4.50" x2="345.71" y2="6.70" stroke="#000" stroke-width="0.85"/>
<line x1="345.71" y1="239.10" x2="345.71" y2="241.60" stroke="#000" stroke-width="0.85"/>
<line x1="356.76" y1="4.50" x2="356.76" y2="8.20" stroke="#000" stroke-width="0.85"/>
<line x1="356.76" y1="239.10" x2="356.76" y2="243.10" stroke="#000" stroke-width="0.85"/>
<line x1="367.82" y1="4.50" x2="367.82" y2="6.70" stroke="#000" stroke-width="0.85"/>
<line x1="367.82" y1="239.10" x2="367.82" y2="241.60" stroke="#000" stroke-width="0.85"/>
<line x1="378.87" y1="4.50" x2="378.87" y2="6.70" stroke="#000" stroke-width="0.85"/>
<line x1="378.87" y1="239.10" x2="378.87" y2="241.60" stroke="#000" stroke-width="0.85"/>
<line x1="389.92" y1="4.50" x2="389.92" y2="6.70" stroke="#000" stroke-width="0.85"/>
<line x1="389.92" y1="239.10" x2="389.92" y2="241.60" stroke="#000" stroke-width="0.85"/>
<line x1="400.97" y1="4.50" x2="400.97" y2="6.70" stroke="#000" stroke-width="0.85"/>
<line x1="400.97" y1="239.10" x2="400.97" y2="241.60" stroke="#000" stroke-width="0.85"/>
<line x1="412.03" y1="4.50" x2="412.03" y2="8.20" stroke="#000" stroke-width="0.85"/>
<line x1="412.03" y1="239.10" x2="412.03" y2="243.10" stroke="#000" stroke-width="0.85"/>
<line x1="423.08" y1="4.50" x2="423.08" y2="6.70" stroke="#000" stroke-width="0.85"/>
<line x1="423.08" y1="239.10" x2="423.08" y2="241.60" stroke="#000" stroke-width="0.85"/>
<line x1="434.13" y1="4.50" x2="434.13" y2="6.70" stroke="#000" stroke-width="0.85"/>
<line x1="434.13" y1="239.10" x2="434.13" y2="241.60" stroke="#000" stroke-width="0.85"/>
<line x1="445.18" y1="4.50" x2="445.18" y2="6.70" stroke="#000" stroke-width="0.85"/>
<line x1="445.18" y1="239.10" x2="445.18" y2="241.60" stroke="#000" stroke-width="0.85"/>
<line x1="456.24" y1="4.50" x2="456.24" y2="6.70" stroke="#000" stroke-width="0.85"/>
<line x1="456.24" y1="239.10" x2="456.24" y2="241.60" stroke="#000" stroke-width="0.85"/>
<line x1="467.29" y1="4.50" x2="467.29" y2="8.20" stroke="#000" stroke-width="0.85"/>
<line x1="467.29" y1="239.10" x2="467.29" y2="243.10" stroke="#000" stroke-width="0.85"/>
<line x1="478.34" y1="4.50" x2="478.34" y2="6.70" stroke="#000" stroke-width="0.85"/>
<line x1="478.34" y1="239.10" x2="478.34" y2="241.60" stroke="#000" stroke-width="0.85"/>
<line x1="489.39" y1="4.50" x2="489.39" y2="6.70" stroke="#000" stroke-width="0.85"/>
<line x1="489.39" y1="239.10" x2="489.39" y2="241.60" stroke="#000" stroke-width="0.85"/>
<line x1="500.45" y1="4.50" x2="500.45" y2="6.70" stroke="#000" stroke-width="0.85"/>
<line x1="500.45" y1="239.10" x2="500.45" y2="241.60" stroke="#000" stroke-width="0.85"/>
<line x1="511.50" y1="4.50" x2="511.50" y2="6.70" stroke="#000" stroke-width="0.85"/>
<line x1="511.50" y1="239.10" x2="511.50" y2="241.60" stroke="#000" stroke-width="0.85"/>
<line x1="522.55" y1="4.50" x2="522.55" y2="8.20" stroke="#000" stroke-width="0.85"/>
<line x1="522.55" y1="239.10" x2="522.55" y2="243.10" stroke="#000" stroke-width="0.85"/>
<line x1="533.60" y1="4.50" x2="533.60" y2="6.70" stroke="#000" stroke-width="0.85"/>
<line x1="533.60" y1="239.10" x2="533.60" y2="241.60" stroke="#000" stroke-width="0.85"/>
<line x1="544.66" y1="4.50" x2="544.66" y2="6.70" stroke="#000" stroke-width="0.85"/>
<line x1="544.66" y1="239.10" x2="544.66" y2="241.60" stroke="#000" stroke-width="0.85"/>
<line x1="555.71" y1="4.50" x2="555.71" y2="6.70" stroke="#000" stroke-width="0.85"/>
<line x1="555.71" y1="239.10" x2="555.71" y2="241.60" stroke="#000" stroke-width="0.85"/>
<line x1="566.76" y1="4.50" x2="566.76" y2="6.70" stroke="#000" stroke-width="0.85"/>
<line x1="566.76" y1="239.10" x2="566.76" y2="241.60" stroke="#000" stroke-width="0.85"/>
<line x1="577.81" y1="4.50" x2="577.81" y2="8.20" stroke="#000" stroke-width="0.85"/>
<line x1="577.81" y1="239.10" x2="577.81" y2="243.10" stroke="#000" stroke-width="0.85"/>
<line x1="588.87" y1="4.50" x2="588.87" y2="6.70" stroke="#000" stroke-width="0.85"/>
<line x1="588.87" y1="239.10" x2="588.87" y2="241.60" stroke="#000" stroke-width="0.85"/>
<line x1="599.92" y1="4.50" x2="599.92" y2="6.70" stroke="#000" stroke-width="0.85"/>
<line x1="599.92" y1="239.10" x2="599.92" y2="241.60" stroke="#000" stroke-width="0.85"/>
<line x1="610.97" y1="4.50" x2="610.97" y2="6.70" stroke="#000" stroke-width="0.85"/>
<line x1="610.97" y1="239.10" x2="610.97" y2="241.60" stroke="#000" stroke-width="0.85"/>
<line x1="622.02" y1="4.50" x2="622.02" y2="6.70" stroke="#000" stroke-width="0.85"/>
<line x1="622.02" y1="239.10" x2="622.02" y2="241.60" stroke="#000" stroke-width="0.85"/>
<line x1="633.08" y1="4.50" x2="633.08" y2="8.20" stroke="#000" stroke-width="0.85"/>
<line x1="633.08" y1="239.10" x2="633.08" y2="243.10" stroke="#000" stroke-width="0.85"/>
<line x1="644.13" y1="4.50" x2="644.13" y2="6.70" stroke="#000" stroke-width="0.85"/>
<line x1="644.13" y1="239.10" x2="644.13" y2="241.60" stroke="#000" stroke-width="0.85"/>
<line x1="655.18" y1="4.50" x2="655.18" y2="6.70" stroke="#000" stroke-width="0.85"/>
<line x1="655.18" y1="239.10" x2="655.18" y2="241.60" stroke="#000" stroke-width="0.85"/>
<line x1="666.23" y1="4.50" x2="666.23" y2="6.70" stroke="#000" stroke-width="0.85"/>
<line x1="666.23" y1="239.10" x2="666.23" y2="241.60" stroke="#000" stroke-width="0.85"/>
<line x1="677.29" y1="4.50" x2="677.29" y2="6.70" stroke="#000" stroke-width="0.85"/>
<line x1="677.29" y1="239.10" x2="677.29" y2="241.60" stroke="#000" stroke-width="0.85"/>
<line x1="688.34" y1="4.50" x2="688.34" y2="8.20" stroke="#000" stroke-width="0.85"/>
<line x1="688.34" y1="239.10" x2="688.34" y2="243.10" stroke="#000" stroke-width="0.85"/>
<line x1="699.39" y1="4.50" x2="699.39" y2="6.70" stroke="#000" stroke-width="0.85"/>
<line x1="699.39" y1="239.10" x2="699.39" y2="241.60" stroke="#000" stroke-width="0.85"/>
<line x1="710.44" y1="4.50" x2="710.44" y2="6.70" stroke="#000" stroke-width="0.85"/>
<line x1="710.44" y1="239.10" x2="710.44" y2="241.60" stroke="#000" stroke-width="0.85"/>
<line x1="721.50" y1="4.50" x2="721.50" y2="6.70" stroke="#000" stroke-width="0.85"/>
<line x1="721.50" y1="239.10" x2="721.50" y2="241.60" stroke="#000" stroke-width="0.85"/>
<line x1="732.55" y1="4.50" x2="732.55" y2="6.70" stroke="#000" stroke-width="0.85"/>
<line x1="732.55" y1="239.10" x2="732.55" y2="241.60" stroke="#000" stroke-width="0.85"/>
<line x1="743.60" y1="4.50" x2="743.60" y2="8.20" stroke="#000" stroke-width="0.85"/>
<line x1="743.60" y1="239.10" x2="743.60" y2="243.10" stroke="#000" stroke-width="0.85"/>
<line x1="754.65" y1="4.50" x2="754.65" y2="6.70" stroke="#000" stroke-width="0.85"/>
<line x1="754.65" y1="239.10" x2="754.65" y2="241.60" stroke="#000" stroke-width="0.85"/>
</g>
<rect x="36.7" y="4.5" width="226.10" height="234.60" fill="none" stroke="#000" stroke-width="0.9"/>
<rect x="285.4" y="4.5" width="474.20" height="234.60" fill="none" stroke="#000" stroke-width="0.9"/>
<g font-family="DejaVu Serif, Liberation Serif, serif" stroke="#000" stroke-width="0.2" stroke-linejoin="round" font-size="12" fill="#000">
<text x="28.1" y="244.50" text-anchor="end">0</text>
<text x="28.1" y="218.43" text-anchor="end">1</text>
<text x="28.1" y="192.37" text-anchor="end">2</text>
<text x="28.1" y="166.30" text-anchor="end">3</text>
<text x="28.1" y="140.23" text-anchor="end">4</text>
<text x="28.1" y="114.17" text-anchor="end">5</text>
<text x="28.1" y="88.10" text-anchor="end">6</text>
<text x="28.1" y="62.03" text-anchor="end">7</text>
<text x="28.1" y="35.97" text-anchor="end">8</text>
<text x="28.1" y="9.90" text-anchor="end">9</text>
<text x="47.40" y="262" text-anchor="middle">4.40</text>
<text x="101.25" y="262" text-anchor="middle">4.45</text>
<text x="155.10" y="262" text-anchor="middle">4.50</text>
<text x="208.95" y="262" text-anchor="middle">4.55</text>
<text x="262.80" y="262" text-anchor="middle">4.60</text>
<text x="301.50" y="262" text-anchor="middle">5.1</text>
<text x="356.76" y="262" text-anchor="middle">5.2</text>
<text x="412.03" y="262" text-anchor="middle">5.3</text>
<text x="467.29" y="262" text-anchor="middle">5.4</text>
<text x="522.55" y="262" text-anchor="middle">5.5</text>
<text x="577.81" y="262" text-anchor="middle">5.6</text>
<text x="633.07" y="262" text-anchor="middle">5.7</text>
<text x="688.34" y="262" text-anchor="middle">5.8</text>
<text x="743.60" y="262" text-anchor="middle">5.9</text>
<text x="149.75" y="282.3" text-anchor="middle">Spectroscopic Redshift</text>
<text x="522.50" y="282.3" text-anchor="middle">Spectroscopic Redshift</text>
<text transform="translate(9.8,121.80) rotate(-90)" text-anchor="middle">Number (stacked)</text>
</g>
<g font-family="DejaVu Serif, Liberation Serif, serif" stroke="#000" stroke-width="0.2" stroke-linejoin="round" font-size="13" fill="#000">
<text x="251.5" y="26.7" text-anchor="end">z ~ 4.5 sample</text>
<text x="745.8" y="26.7" text-anchor="end">z ~ 5.5 sample</text>
</g>
<g id="legend" font-family="DejaVu Serif, Liberation Serif, serif" stroke="#000" stroke-width="0.2" stroke-linejoin="round" font-size="11.22" fill="#000">
<rect x="295.9" y="15.59" width="22.0" height="7.35" fill="#1f77b4"/>
<path d="M295.90,19.88L300.18,15.60M297.63,22.94L304.98,15.60M302.42,22.94L309.77,15.59M307.22,22.94L314.57,15.60M312.02,22.94L317.90,17.06M316.81,22.94L317.90,21.86" stroke="#000" stroke-width="1.2" fill="none"/>
<rect x="295.9" y="15.59" width="22.0" height="7.35" fill="none" stroke="#000" stroke-width="1"/>
<text x="326.9" y="23.07">GRAPES (HST grism, ECDFS)</text>
<rect x="295.9" y="32.12" width="22.0" height="7.35" fill="#ff7f0e"/>
<path d="M295.90,34.26L298.04,32.12M295.90,39.06L302.84,32.12M300.28,39.47L307.63,32.12M305.08,39.48L312.43,32.12M309.88,39.48L317.23,32.12M314.67,39.47L317.90,36.25" stroke="#000" stroke-width="1.2" fill="none"/>
<rect x="295.9" y="32.12" width="22.0" height="7.35" fill="none" stroke="#000" stroke-width="1"/>
<text x="326.9" y="39.60">VLT VIMOS and FORS2 (ECDFS)</text>
<rect x="295.9" y="48.66" width="22.0" height="7.35" fill="#2ca02c"/>
<rect x="295.9" y="48.66" width="22.0" height="7.35" fill="none" stroke="#000" stroke-width="1"/>
<text x="326.9" y="56.13">X-ray (Chandra)</text>
<rect x="295.9" y="65.19" width="22.0" height="7.35" fill="#d62728"/>
<rect x="295.9" y="65.19" width="22.0" height="7.35" fill="none" stroke="#000" stroke-width="1"/>
<text x="326.9" y="72.66">LBG (color)</text>
<rect x="295.9" y="81.72" width="22.0" height="7.35" fill="#9467bd"/>
<rect x="295.9" y="81.72" width="22.0" height="7.35" fill="none" stroke="#000" stroke-width="1"/>
<text x="326.9" y="89.19">Narrow-band (low-z)</text>
<rect x="295.9" y="98.25" width="22.0" height="7.35" fill="#8c564b"/>
<rect x="295.9" y="98.25" width="22.0" height="7.35" fill="none" stroke="#000" stroke-width="1"/>
<text x="326.9" y="105.72">Narrow-band (high-z)</text>
<rect x="295.9" y="114.78" width="22.0" height="7.35" fill="#e377c2"/>
<rect x="295.9" y="114.78" width="22.0" height="7.35" fill="none" stroke="#000" stroke-width="1"/>
<text x="326.9" y="122.25"><tspan font-family="DejaVu Sans, Liberation Sans, sans-serif">4.5</tspan><tspan x="346.6" font-family="DejaVu Sans, Liberation Sans, sans-serif">µm</tspan><tspan x="368.5">excess</tspan></text>
<rect x="295.9" y="131.31" width="22.0" height="7.35" fill="#7f7f7f"/>
<rect x="295.9" y="131.31" width="22.0" height="7.35" fill="none" stroke="#000" stroke-width="1"/>
<text x="326.9" y="138.78">photometric redshift</text>
<rect x="295.9" y="147.84" width="22.0" height="7.35" fill="#bcbd22"/>
<rect x="295.9" y="147.84" width="22.0" height="7.35" fill="none" stroke="#000" stroke-width="1"/>
<text x="326.9" y="155.31">VUDS (photo-z + LBG)</text>
</g>
</svg>
</body></html>
